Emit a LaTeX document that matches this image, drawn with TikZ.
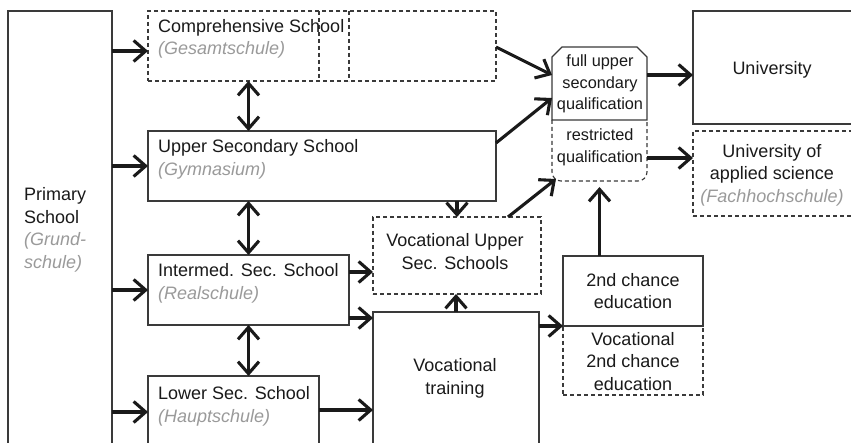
\documentclass[tikz,border=0pt]{standalone}
\usepackage{fontspec}
\setmainfont{Liberation Sans}
\usetikzlibrary{arrows.meta,calc}
\definecolor{txt}{HTML}{1A1A1A}
\definecolor{ln}{HTML}{3A3A3A}
\definecolor{gry}{HTML}{9A9A9A}
\newcommand{\gname}[1]{\textcolor{gry}{\itshape #1}}
\begin{document}
\begin{tikzpicture}[x=1pt,y=-1pt,
  bx/.style={draw=ln,line width=1.1pt,rectangle,inner sep=0pt,outer sep=0pt},
  dbx/.style={bx,dash pattern=on 4pt off 3pt},
  frame/.style={rectangle,draw=none,inner sep=0pt,outer sep=0pt},
  lbl/.style={text=txt,inner sep=0pt,font=\fontsize{18}{22.5}\selectfont},
  lbll/.style={lbl,align=left,anchor=west},
  lblc/.style={lbl,align=center},
  lbls/.style={lblc,font=\fontsize{16.3}{21.5}\selectfont},
  tip/.style={},
  arr/.style={draw=txt,line width=3.1pt,-{Straight Barb[length=12pt,width=21pt]}},
  darr/.style={draw=txt,line width=3.1pt,{Straight Barb[length=12pt,width=21pt]}-{Straight Barb[length=12pt,width=21pt]}}
]
\useasboundingbox (0,0) rectangle (851,443);
\clip (0,0) rectangle (851,443);
\fill[white] (0,0) rectangle (851,443);

% boxes
\node[bx,minimum width=104,minimum height=459] (prim) at (60,240.5) {};
\node[dbx,minimum width=348,minimum height=70] (comp) at (322,46) {};
\node[bx,minimum width=348,minimum height=70] (upper) at (322,166) {};
\node[bx,minimum width=201,minimum height=70] (inter) at (248.5,290) {};
\node[bx,minimum width=171,minimum height=94] (lower) at (233.5,423) {};
\node[dbx,minimum width=168,minimum height=77] (vus) at (457,255.5) {};
\node[bx,minimum width=166,minimum height=158] (vt) at (456,391) {};
\node[frame,minimum width=95,minimum height=73] (full) at (599.5,83.5) {};
\node[frame,minimum width=95,minimum height=61] (restr) at (599.5,150.5) {};
\node[bx,minimum width=167,minimum height=113] (univ) at (776.5,67.5) {};
\node[dbx,minimum width=167,minimum height=85] (uas) at (776.5,173.5) {};
\node[bx,minimum width=140,minimum height=70] (snd) at (633,291) {};
\node[dbx,minimum width=140,minimum height=69] (vsnd) at (633,360.5) {};

% inner dashed dividers of the comprehensive school box
\draw[dbx] (comp.north -| lower.east) -- (comp.south -| lower.east);
\draw[dbx] (comp.north -| inter.east) -- (comp.south -| inter.east);

% qualification shapes
\draw[bx] (full.south west) -- ([yshift=-10pt]full.north west) -- ([xshift=10pt]full.north west)
  -- ([xshift=-10pt]full.north east) -- ([yshift=-10pt]full.north east) -- (full.south east) -- cycle;
\draw[dbx,rounded corners=9pt] (restr.north west) -- (restr.south west) -- (restr.south east) -- (restr.north east);

% texts
\node[lbll] (tprim) at (24,230) {Primary\\School\\\gname{(Grund-}\\\gname{schule)}};
\node[lbll] (tcomp) at (158,39) {Comprehensive School\\\gname{(Gesamtschule)}};
\node[lbll] (tupper) at (158,159.5) {Upper Secondary School\\\gname{(Gymnasium)}};
\node[lbll] (tinter) at (158,283.5) {Intermed. Sec. School\\\gname{(Realschule)}};
\node[lbll] (tlower) at (158,406.5) {Lower Sec. School\\\gname{(Hauptschule)}};
\node[lblc] (tvus) at (455,251.5) {Vocational Upper\\Sec. Schools};
\node[lblc] (tvt) at (455,378.5) {Vocational\\training};
\node[lbls] (tfull) at (600,84) {full upper\\secondary\\qualification};
\node[lbls] (trestr) at (600,147.5) {restricted\\qualification};
\node[lblc] (tuniv) at (772,70) {University};
\node[lblc] (tuas) at (772,175) {University of\\applied science\\\gname{(Fachhochschule)}};
\node[lblc] (tsnd) at (633,291) {2nd chance\\education};
\node[lblc] (tvsnd) at (633,361.5) {Vocational\\2nd chance\\education};

% helper coordinates
\coordinate (c1) at ([yshift=-5pt]comp.west);
\coordinate (c4) at ([yshift=11pt]lower.west);
\coordinate (c8s) at ([yshift=-1pt]comp.east);
\coordinate (c8e) at ([yshift=8.5pt]full.west);
\coordinate (c9s) at ([yshift=23pt]upper.east);
\coordinate (c9e) at ([yshift=-14.5pt]full.west);
\coordinate (c11s) at ([xshift=51pt]vus.north);
\coordinate (c11e) at ([xshift=4pt,yshift=2pt]restr.south west);
\coordinate (c12) at ([yshift=8.5pt]full.east);
\coordinate (c13) at ([yshift=-7.5pt]restr.east);
\coordinate (c14) at ([yshift=-6pt]restr.south);
\coordinate (c15) at ([yshift=18pt]inter.east);
\coordinate (c16) at ([yshift=-28pt]inter.east);
\coordinate (c17) at ([yshift=13pt]lower.east);

% connectors
\draw[arr] (prim.east |- c1) -- (c1);
\draw[arr] (prim.east |- upper.west) -- (upper.west);
\draw[arr] (prim.east |- inter.west) -- (inter.west);
\draw[arr] (prim.east |- c4) -- (c4);
\draw[darr] (comp.south -| inter.north) -- (upper.north -| inter.north);
\draw[darr] (upper.south -| inter.north) -- (inter.north);
\draw[darr] (inter.south) -- (inter.south |- lower.north);
\draw[arr] (c8s) -- (c8e);
\draw[arr] (c9s) -- (c9e);
\draw[arr] (upper.south -| vus.north) -- (vus.north);
\draw[arr] (c11s) -- (c11e);
\draw[arr] (c12) -- (c12 -| univ.west);
\draw[arr] (c13) -- (c13 -| uas.west);
\draw[arr] (restr.south |- snd.north) -- (c14);
\draw[arr] (c15) -- (c15 -| vus.west);
\draw[arr] (c16) -- (c16 -| vt.west);
\draw[arr] (c17) -- (c17 -| vt.west);
\draw[arr] (vt.north) -- (vt.north |- vus.south);
\draw[arr] (vt.east |- snd.south) -- (snd.south west);
\end{tikzpicture}
\end{document}
